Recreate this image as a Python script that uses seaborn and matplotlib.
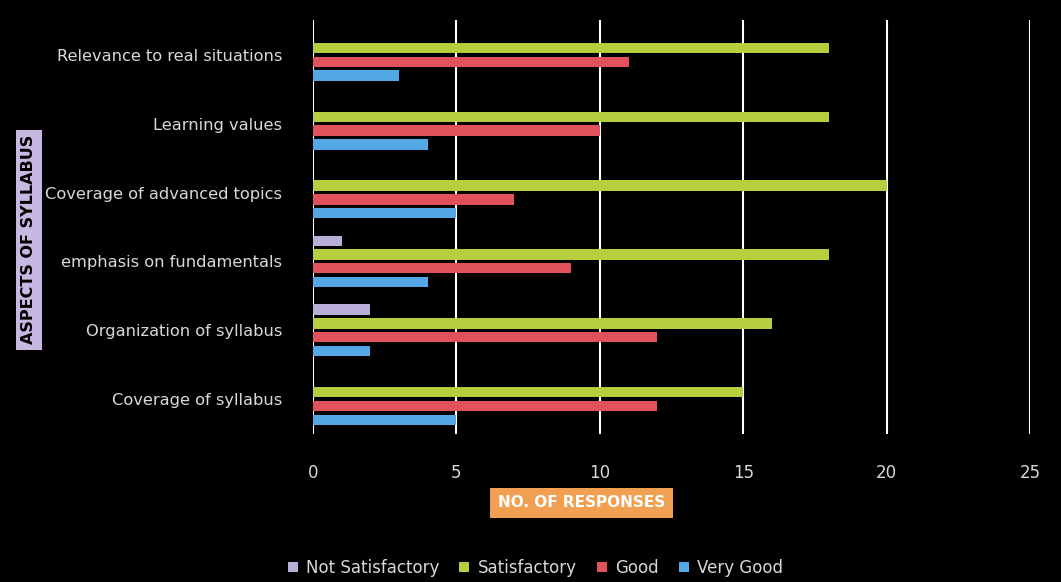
import matplotlib
matplotlib.use("Agg")
import matplotlib.pyplot as plt
import seaborn as sns
import pandas as pd

categories = ["Relevance to real situations", "Learning values", "Coverage of advanced topics",
              "emphasis on fundamentals", "Organization of syllabus", "Coverage of syllabus"]
series = ["Not Satisfactory", "Satisfactory", "Good", "Very Good"]
not_satisfactory = [0, 0, 0, 1, 2, 0]
satisfactory = [18, 18, 20, 18, 16, 15]
good = [11, 10, 7, 9, 12, 12]
very_good = [3, 4, 5, 4, 2, 5]
x_ticks = [0, 5, 10, 15, 20, 25]
colors = ["#b8aed8", "#b7cf3e", "#e2525c", "#55a8e6"]

rows = []
for s, vals in zip(series, [not_satisfactory, satisfactory, good, very_good]):
    for c, v in zip(categories, vals):
        rows.append({"Aspect": c, "Series": s, "Value": v})
df = pd.DataFrame(rows)

sns.set_style("dark")
plt.rcParams["font.family"] = ["DejaVu Sans"]
fig = plt.figure(figsize=(10.61, 5.82), dpi=100, facecolor="black")
ax = fig.add_axes([0.295, 0.255, 0.676, 0.71])
ax.set_facecolor("black")

sns.barplot(data=df, y="Aspect", x="Value", hue="Series", order=categories,
            hue_order=series, palette=colors, orient="h", width=0.8, gap=0.25,
            ax=ax, saturation=1, legend=True, linewidth=0)

ax.set_xlim(0, 25)
ax.set_xticks(x_ticks)
ax.set_xticklabels([str(t) for t in x_ticks], color="#d8d8d8", fontsize=12)
ax.tick_params(axis="x", pad=22, length=0)
ax.tick_params(axis="y", length=0, pad=22, labelcolor="#d8d8d8", labelsize=11.7)
ax.grid(axis="x", color="white", linewidth=1.5)
ax.grid(axis="y", visible=False)
ax.set_axisbelow(True)
for sp in ax.spines.values():
    sp.set_visible(False)

ax.set_ylabel("")
ax.set_xlabel("")
fig.text(0.027, 0.588, "ASPECTS OF SYLLABUS", rotation=90, ha="center", va="center",
         fontsize=11.5, fontweight="bold", color="black",
         bbox=dict(boxstyle="square,pad=0.35", facecolor="#c6b8e0", edgecolor="none"))
fig.text(0.548, 0.136, "NO. OF RESPONSES", ha="center", va="center",
         fontsize=11, fontweight="bold", color="white",
         bbox=dict(boxstyle="square,pad=0.5", facecolor="#f0a050", edgecolor="none"))

leg = ax.legend(loc="center", bbox_to_anchor=(0.31, -0.325), ncol=4, frameon=False,
                fontsize=12, handlelength=0.6, handleheight=0.6, columnspacing=1.2,
                handletextpad=0.5)
for t in leg.get_texts():
    t.set_color("#d8d8d8")

fig.savefig("out.png", dpi=100, facecolor="black")
